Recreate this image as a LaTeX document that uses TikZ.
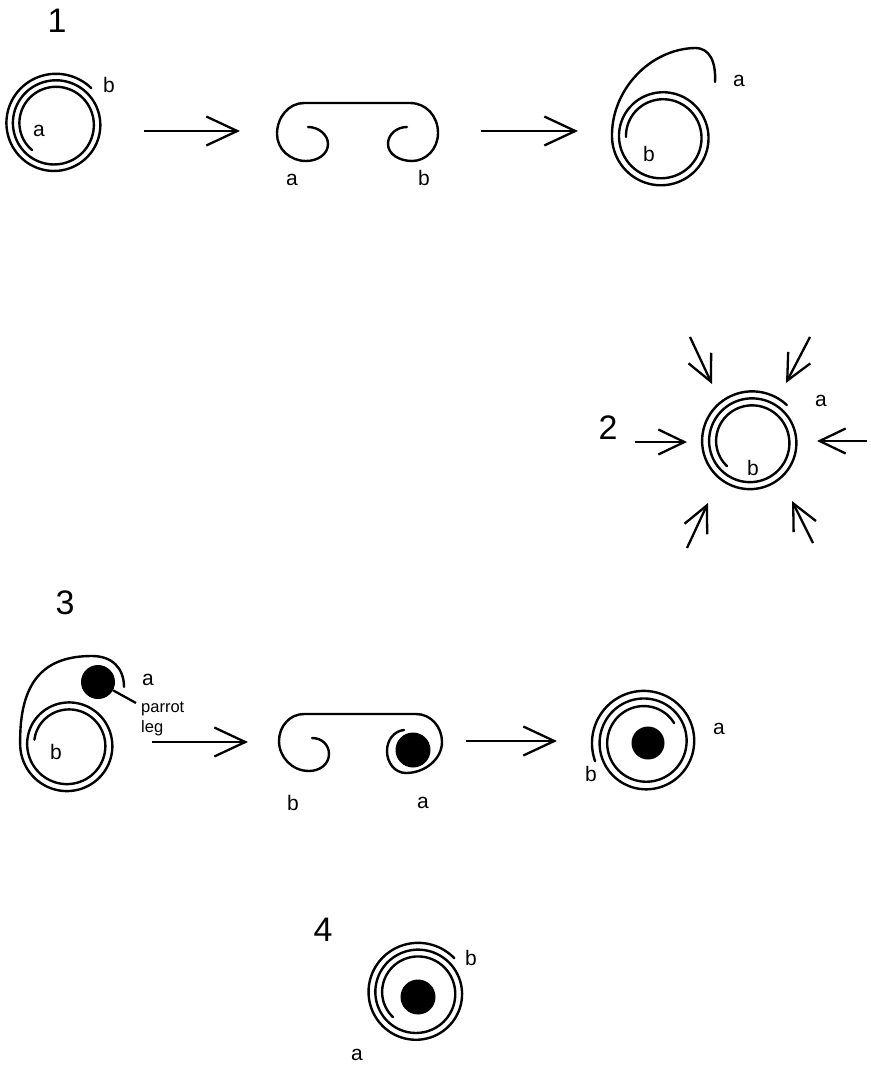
\documentclass[tikz,border=0pt]{standalone}
\usepackage{fontspec}
\setmainfont{Liberation Sans}
\usetikzlibrary{arrows.meta}
\begin{document}
\begin{tikzpicture}[x=1pt,y=-1pt,
  strip/.style={line width=2.4pt, line join=round, line cap=round},
  lbl/.style={inner sep=0pt, font=\fontsize{21}{24}\selectfont},
  num/.style={inner sep=0pt, font=\fontsize{34}{40}\selectfont},
  note/.style={inner sep=0pt, anchor=base west, font=\fontsize{16.5}{19}\selectfont},
  bigarrow/.style={line width=2.3pt, -{Straight Barb[length=31pt,width=29pt]}},
  smallarrow/.style={line width=2.3pt, -{Straight Barb[length=26pt,width=25pt]}},
  dot/.style={circle, fill=black, draw=none, inner sep=0pt},
]
\useasboundingbox (0,0) rectangle (870,1068);

% ---------- step 1 ----------
\node[num] (n1) at (57,21) {1};
% tight coil
\draw[strip] plot[domain=0:904, samples=300, variable=\t]
  ({55+(34.7+6.5*\t/360)*cos(228.5-\t)}, {124-(34.7+6.5*\t/360)*sin(228.5-\t)});
\node[lbl] (c1a) at (39,131) {a};
\node[lbl] (c1b) at (109,85) {b};
% opened strip with both ends curled
\draw[strip] (308,127) .. controls (319,127) and (328,135) .. (328,144)
  .. controls (328,154) and (318,161) .. (306,161)
  .. controls (290,161) and (277,149) .. (277,134)
  .. controls (277,117) and (289,103) .. (304,103)
  -- (410,103)
  .. controls (426,103) and (438,116) .. (438,133)
  .. controls (438,149) and (426,161) .. (412,161)
  .. controls (399,161) and (388,154) .. (388,144)
  .. controls (388,134) and (397,127) .. (407,127);
\node[lbl] (s1a) at (292,180) {a};
\node[lbl] (s1b) at (424,178) {b};
% rewound the other way, end a left free
\draw[strip] plot[domain=0:720, samples=250, variable=\t]
  ({662+(36+7*\t/360)*cos(180-\t)}, {137-(36+7*\t/360)*sin(180-\t)})
  .. controls (611,90) and (650,49) .. (695,48)
  .. controls (710,48) and (716,62) .. (715,82);
\node[lbl] (r1a) at (739,81) {a};
\node[lbl] (r1b) at (649,154) {b};
% arrows between stages
\coordinate (p1s) at (144,131); \coordinate (p1e) at (240,131);
\coordinate (p2s) at (481,131); \coordinate (p2e) at (578,131);
\draw[bigarrow] (p1s) -- (p1e);
\draw[bigarrow] (p2s) -- (p2e);

% ---------- step 2 ----------
\node[num] (n2) at (608,428) {2};
\draw[strip] plot[domain=0:899, samples=300, variable=\t]
  ({751+(34+7*\t/360)*cos(225-\t)}, {442-(34+7*\t/360)*sin(225-\t)});
\node[lbl] (c2a) at (821,401) {a};
\node[lbl] (c2b) at (753,468) {b};
\coordinate (q1s) at (635,442); \coordinate (q1e) at (687,442);
\coordinate (q2s) at (867,441); \coordinate (q2e) at (817,441);
\coordinate (q3s) at (690,337); \coordinate (q3e) at (712,384);
\coordinate (q4s) at (810,337); \coordinate (q4e) at (786,383);
\coordinate (q5s) at (687,548); \coordinate (q5e) at (708,503);
\coordinate (q6s) at (813,543); \coordinate (q6e) at (792,501);
\foreach \k in {1,...,6} \draw[smallarrow] (q\k s) -- (q\k e);

% ---------- step 3 ----------
\node[num] (n3) at (65,603) {3};
\draw[strip] plot[domain=0:711, samples=250, variable=\t]
  ({68+(34+7*\t/360)*cos(171-\t)}, {745-(34+7*\t/360)*sin(171-\t)})
  .. controls (19,680) and (45,656) .. (92,656)
  .. controls (112,656) and (124,668) .. (124,687);
\node[dot, minimum size=34pt] (leg1) at (98,682) {};
\node[lbl] (l3a) at (148,680) {a};
\node[lbl] (l3b) at (56,752) {b};
\node[note] (parrot) at (141,712) {parrot};
\node[note] (legtxt) at (141,732) {leg};
\coordinate (lead) at (136,703);
\draw[line width=2.3pt] (leg1) -- (lead);
% strip opened around the leg
\draw[strip] (312,738) .. controls (322,738) and (329,745) .. (329,754)
  .. controls (329,764) and (320,771) .. (309,771)
  .. controls (292,771) and (279,757) .. (279,741)
  .. controls (279,726) and (290,714) .. (304,714)
  -- (416,714)
  .. controls (431,714) and (442,727) .. (442,742)
  .. controls (442,759) and (425,773) .. (406,773)
  .. controls (395,773) and (387,763) .. (387,751)
  .. controls (387,740) and (394,731) .. (404,730);
\node[dot, minimum size=35pt] (leg2) at (413,750) {};
\node[lbl] (s3b) at (293,803) {b};
\node[lbl] (s3a) at (423,803) {a};
% wound round the leg
\draw[strip] plot[domain=0:888, samples=300, variable=\t]
  ({645+(34.7+7.6*\t/360)*cos(33+\t)}, {742-(34.7+7.6*\t/360)*sin(33+\t)});
\node[dot, minimum size=33pt] (leg3) at (648,743) {};
\node[lbl] (r3a) at (719,729) {a};
\node[lbl] (r3b) at (591,774) {b};
\coordinate (u1s) at (152,742); \coordinate (u1e) at (248,742);
\coordinate (u2s) at (466,741); \coordinate (u2e) at (557,741);
\draw[bigarrow] (u1s) -- (u1e);
\draw[bigarrow] (u2s) -- (u2e);

% ---------- step 4 ----------
\node[num] (n4) at (323,930) {4};
\draw[strip] plot[domain=0:902, samples=300, variable=\t]
  ({417+(34+6.8*\t/360)*cos(225-\t)}, {993-(34+6.8*\t/360)*sin(225-\t)});
\node[dot, minimum size=35pt] (leg4) at (418,997) {};
\node[lbl] (c4b) at (471,958) {b};
\node[lbl] (c4a) at (357,1055) {a};
\end{tikzpicture}
\end{document}
